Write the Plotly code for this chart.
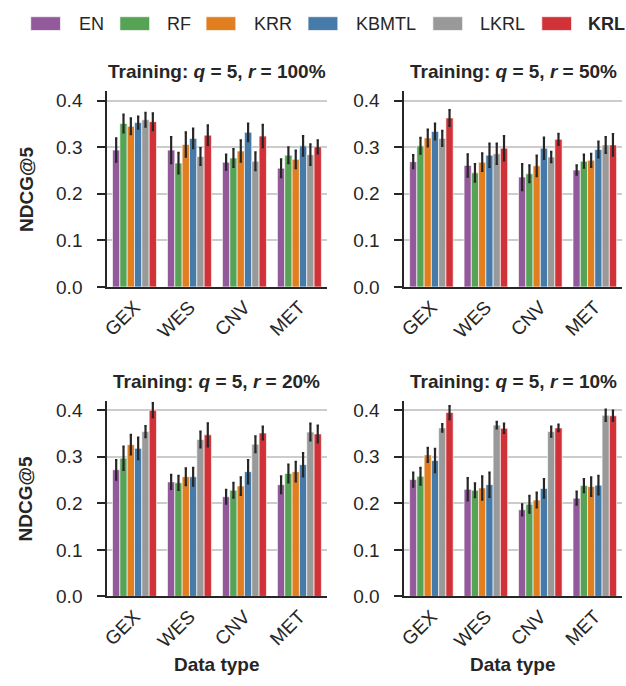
import plotly.graph_objects as go

categories = ["GEX", "WES", "CNV", "MET"]
methods = ["EN", "RF", "KRR", "KBMTL", "LKRL", "KRL"]
colors = ["#935a9b", "#57a356", "#e17f20", "#467ba9", "#999999", "#d03237"]
panel_titles = ["100%", "50%", "20%", "10%"]

# mean NDCG@5 per method over categories (GEX, WES, CNV, MET)
p100_mean = {
    "EN": [0.294, 0.294, 0.268, 0.255],
    "RF": [0.351, 0.266, 0.277, 0.283],
    "KRR": [0.345, 0.306, 0.292, 0.274],
    "KBMTL": [0.353, 0.319, 0.332, 0.303],
    "LKRL": [0.359, 0.280, 0.270, 0.284],
    "KRL": [0.355, 0.326, 0.324, 0.301],
}
p100_err = {
    "EN": [0.025, 0.028, 0.016, 0.019],
    "RF": [0.019, 0.022, 0.019, 0.017],
    "KRR": [0.017, 0.026, 0.023, 0.019],
    "KBMTL": [0.013, 0.021, 0.019, 0.021],
    "LKRL": [0.015, 0.018, 0.019, 0.022],
    "KRL": [0.018, 0.021, 0.024, 0.014],
}
p50_mean = {
    "EN": [0.269, 0.261, 0.236, 0.251],
    "RF": [0.303, 0.245, 0.243, 0.270],
    "KRR": [0.320, 0.268, 0.260, 0.272],
    "KBMTL": [0.334, 0.283, 0.298, 0.295],
    "LKRL": [0.319, 0.286, 0.279, 0.305],
    "KRL": [0.363, 0.298, 0.317, 0.305],
}
p50_err = {
    "EN": [0.014, 0.024, 0.028, 0.010],
    "RF": [0.017, 0.019, 0.018, 0.014],
    "KRR": [0.018, 0.019, 0.022, 0.014],
    "KBMTL": [0.017, 0.025, 0.023, 0.017],
    "LKRL": [0.016, 0.022, 0.011, 0.017],
    "KRL": [0.017, 0.026, 0.012, 0.023],
}
p20_mean = {
    "EN": [0.272, 0.246, 0.214, 0.240],
    "RF": [0.297, 0.244, 0.228, 0.264],
    "KRR": [0.326, 0.257, 0.237, 0.268],
    "KBMTL": [0.318, 0.257, 0.268, 0.283],
    "LKRL": [0.354, 0.337, 0.327, 0.353],
    "KRL": [0.400, 0.347, 0.351, 0.349],
}
p20_err = {
    "EN": [0.021, 0.015, 0.015, 0.018],
    "RF": [0.025, 0.015, 0.016, 0.019],
    "KRR": [0.021, 0.018, 0.019, 0.021],
    "KBMTL": [0.023, 0.019, 0.025, 0.025],
    "LKRL": [0.012, 0.017, 0.017, 0.018],
    "KRL": [0.015, 0.025, 0.014, 0.018],
}
p10_mean = {
    "EN": [0.251, 0.230, 0.186, 0.211],
    "RF": [0.258, 0.228, 0.198, 0.238],
    "KRR": [0.304, 0.233, 0.207, 0.236],
    "KBMTL": [0.292, 0.240, 0.232, 0.239],
    "LKRL": [0.362, 0.368, 0.354, 0.389],
    "KRL": [0.395, 0.361, 0.362, 0.388],
}
p10_err = {
    "EN": [0.015, 0.024, 0.012, 0.014],
    "RF": [0.018, 0.015, 0.018, 0.014],
    "KRR": [0.015, 0.025, 0.016, 0.020],
    "KBMTL": [0.025, 0.026, 0.020, 0.020],
    "LKRL": [0.008, 0.007, 0.011, 0.012],
    "KRL": [0.014, 0.010, 0.007, 0.011],
}

panels = [(p100_mean, p100_err), (p50_mean, p50_err), (p20_mean, p20_err), (p10_mean, p10_err)]

W, H = 626, 686
FONT = "Liberation Sans, Arial, sans-serif"
DARK = "#262626"

# layout (pixels): panel boxes (x0, x1, ytop, ybottom), legend patch x and label x positions
boxes = [(102, 324, 92, 291), (402, 622, 92, 291), (102, 324, 407, 606), (402, 622, 407, 606)]
legend_patch_x = [25, 115, 202, 305, 431, 541]
legend_text_x = [72, 161, 248, 351, 477, 586]

fig = go.Figure()
for pi, (means, errs) in enumerate(panels):
    ax = "" if pi == 0 else str(pi + 1)
    for mi, m in enumerate(methods):
        fig.add_trace(go.Bar(
            x=categories, y=means[m], name=m,
            marker=dict(color=colors[mi], line=dict(color="rgba(255,255,255,0.8)", width=0.8)),
            error_y=dict(type="data", array=errs[m], color=DARK, thickness=2.2, width=1.2),
            xaxis="x" + ax, yaxis="y" + ax, showlegend=False, offsetgroup=m,
        ))

layout = dict(
    width=W, height=H, autosize=False, margin=dict(l=0, r=0, t=0, b=0),
    paper_bgcolor="white", plot_bgcolor="white",
    barmode="group", bargap=0.2, bargroupgap=0,
    font=dict(family=FONT, color=DARK, size=19),
    showlegend=False,
)
annotations = []
shapes = []
for pi, (x0, x1, yt, yb) in enumerate(boxes):
    ax = "" if pi == 0 else str(pi + 1)
    layout["xaxis" + ax] = dict(
        domain=[x0 / W, x1 / W], anchor="y" + ax, range=[-0.5, 3.5],
        showline=True, linecolor=DARK, linewidth=1.5, ticks="", showgrid=False,
        tickangle=-45, tickfont=dict(size=19, color=DARK), zeroline=False,
    )
    layout["yaxis" + ax] = dict(
        domain=[1 - yb / H, 1 - yt / H], anchor="x" + ax, range=[0, 0.42],
        tickvals=[0, 0.1, 0.2, 0.3, 0.4], tickformat=".1f",
        showline=True, linecolor=DARK, linewidth=1.5, ticks="outside", ticklen=8,
        tickwidth=1.5, tickcolor=DARK, showgrid=True, gridcolor="#cccccc", gridwidth=1.6,
        zeroline=False, tickfont=dict(size=19, color=DARK), ticklabelstandoff=11,
    )
    cx = (x0 + x1) / 2
    annotations.append(dict(
        text="<b>Training: <i>q</i> = 5, <i>r</i> = " + panel_titles[pi] + "</b>",
        x=cx / W, y=1 - (yt - 20) / H, xref="paper", yref="paper",
        xanchor="center", yanchor="middle", showarrow=False, font=dict(size=19, color=DARK),
    ))
    if pi in (0, 2):
        annotations.append(dict(
            text="<b>NDCG@5</b>", x=20 / W, y=1 - ((yt + yb) / 2) / H, xref="paper", yref="paper",
            xanchor="center", yanchor="middle", showarrow=False, textangle=-90,
            font=dict(size=19, color=DARK),
        ))
    if pi in (2, 3):
        annotations.append(dict(
            text="<b>Data type</b>", x=cx / W, y=1 - 675 / H, xref="paper", yref="paper",
            xanchor="center", yanchor="middle", showarrow=False, font=dict(size=19, color=DARK),
        ))

# legend drawn as patches + labels
for mi, m in enumerate(methods):
    px = legend_patch_x[mi]
    shapes.append(dict(type="rect", xref="paper", yref="paper",
                       x0=px / W, x1=(px + 30) / W, y0=1 - 30 / H, y1=1 - 16 / H,
                       fillcolor=colors[mi], line=dict(color="rgba(255,255,255,0.8)", width=0.8)))
    annotations.append(dict(
        text=("<b>" + m + "</b>") if m == "KRL" else m,
        x=legend_text_x[mi] / W, y=1 - 23 / H, xref="paper", yref="paper",
        xanchor="left", yanchor="middle", showarrow=False, font=dict(size=18, color=DARK),
    ))

layout["annotations"] = annotations
layout["shapes"] = shapes
fig.update_layout(**layout)
fig.write_html(
    "out.html",
    config={"displayModeBar": False, "responsive": False},
    post_script="document.body.style.margin='0';document.body.style.overflow='hidden';"
                "document.documentElement.style.overflow='hidden';",
)
